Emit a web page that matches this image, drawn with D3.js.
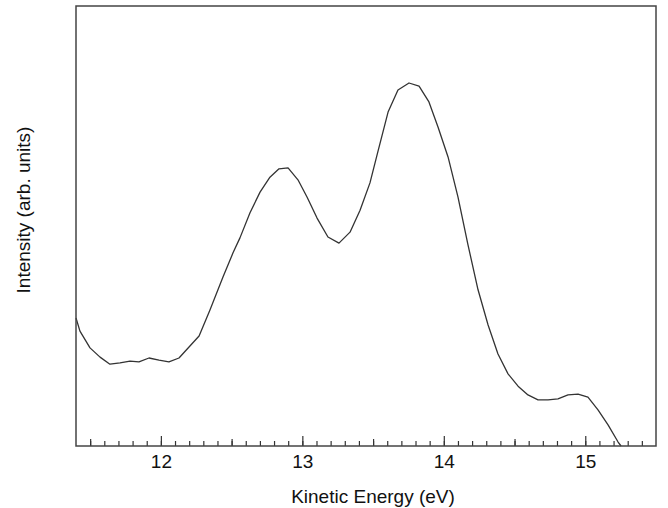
<!DOCTYPE html>
<html>
<head>
<meta charset="utf-8">
<script src="https://cdn.jsdelivr.net/npm/d3@7"></script>
<style>
    body { margin: 0; background: #fff; }
    svg text { font-family: "Liberation Sans", Arial, sans-serif; fill: #111; }
</style>
</head>
<body>
<div id="chart"></div>
<script>
// spectrum (eV, arb. units)
var energy = [
    11.400, 11.428, 11.499, 11.570, 11.640, 11.711, 11.782, 11.845, 11.916, 11.987,
    12.057, 12.128, 12.199, 12.270, 12.347, 12.439, 12.510, 12.559, 12.630, 12.701,
    12.771, 12.835, 12.899, 12.969, 13.033, 13.104, 13.181, 13.259, 13.337, 13.408,
    13.478, 13.535, 13.606, 13.676, 13.754, 13.825, 13.895, 13.959, 14.030, 14.100,
    14.171, 14.242, 14.313, 14.383, 14.454, 14.525, 14.595, 14.666, 14.737, 14.807,
    14.878, 14.949, 15.019, 15.090, 15.161, 15.232, 15.253
];
var intensity = [
    29.1, 26.1, 22.3, 20.2, 18.6, 18.9, 19.3, 19.1, 20.0, 19.5,
    19.1, 20.0, 22.5, 25.0, 30.9, 38.4, 43.9, 47.3, 53.0, 57.7,
    61.1, 63.0, 63.2, 60.5, 56.6, 51.8, 47.5, 46.1, 48.6, 53.6,
    59.8, 67.0, 75.9, 80.9, 82.5, 81.8, 78.2, 72.5, 65.7, 56.6,
    45.7, 35.5, 27.5, 20.9, 16.4, 13.6, 11.6, 10.5, 10.5, 10.7,
    11.6, 11.8, 11.1, 8.2, 4.8, 0.9, 0.0
];
var majorTicks = [12, 13, 14, 15];
var halfTicks = [11.5, 12.5, 13.5, 14.5];
var minorTicks = d3.range(115, 155).map(function (d) { return d / 10; });
var xDomain = [11.4, 15.5];
var yDomain = [0, 100];

var width = 668, height = 508;
var margin = {top: 6, right: 12, bottom: 62, left: 76};

var svg = d3.select('#chart').append('svg')
    .attr('width', width)
    .attr('height', height);

var x = d3.scaleLinear()
    .domain(xDomain)
    .range([margin.left, width - margin.right]);
var y = d3.scaleLinear()
    .domain(yDomain)
    .range([height - margin.bottom, margin.top]);

var data = energy.map(function (e, i) { return {e: e, v: intensity[i]}; });

var line = d3.line()
    .x(function (d) { return x(d.e); })
    .y(function (d) { return y(d.v); });

svg.append('path')
    .datum(data)
    .attr('fill', 'none')
    .attr('stroke', '#333')
    .attr('stroke-width', 1.3)
    .attr('stroke-linejoin', 'round')
    .attr('d', line);

// ticks point up into the plot
function tickAxis(values, size) {
    return d3.axisBottom(x)
        .tickValues(values)
        .tickSizeInner(-size)
        .tickSizeOuter(0)
        .tickFormat('');
}

var base = height - margin.bottom;
[[minorTicks, 5], [halfTicks, 7]].forEach(function (t) {
    var g = svg.append('g')
        .attr('transform', 'translate(0,' + base + ')')
        .call(tickAxis(t[0], t[1]));
    g.select('.domain').remove();
    g.selectAll('line').attr('stroke', '#333').attr('stroke-width', 1.2);
});

var major = svg.append('g')
    .attr('transform', 'translate(0,' + base + ')')
    .call(d3.axisBottom(x)
        .tickValues(majorTicks)
        .tickSizeInner(-10)
        .tickSizeOuter(0)
        .tickPadding(8.5)
        .tickFormat(d3.format('d')));
major.select('.domain').remove();
major.selectAll('line').attr('stroke', '#333').attr('stroke-width', 1.2);
major.selectAll('text')
    .style('font-size', '19px')
    .attr('fill', '#111');

// frame
svg.append('rect')
    .attr('x', x.range()[0])
    .attr('y', y.range()[1])
    .attr('width', x.range()[1] - x.range()[0])
    .attr('height', y.range()[0] - y.range()[1])
    .attr('fill', 'none')
    .attr('stroke', '#444')
    .attr('stroke-width', 1.5);

svg.append('text')
    .attr('x', 373)
    .attr('y', 503)
    .attr('text-anchor', 'middle')
    .style('font-size', '19px')
    .text('Kinetic Energy (eV)');

svg.append('text')
    .attr('transform', 'translate(30,210) rotate(-90)')
    .attr('text-anchor', 'middle')
    .style('font-size', '19px')
    .text('Intensity (arb. units)');
</script>
</body>
</html>
